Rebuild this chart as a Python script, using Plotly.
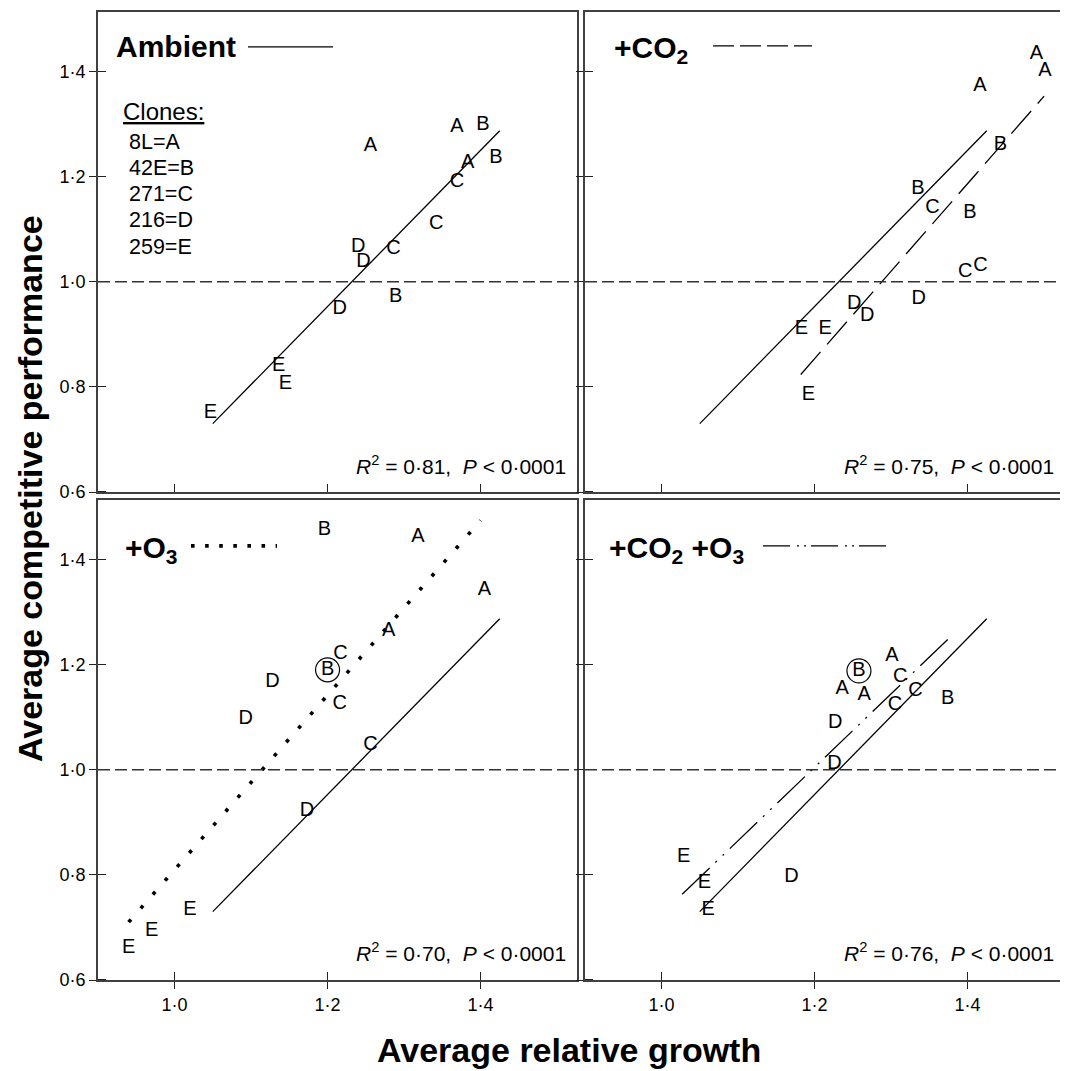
import plotly.graph_objects as go

# ---------------- data ----------------
x_amb = [1.256, 1.369, 1.403, 1.383, 1.420, 1.369, 1.342, 1.286, 1.240, 1.247, 1.289, 1.216, 1.136, 1.145, 1.047]
y_amb = [1.258, 1.294, 1.298, 1.226, 1.235, 1.190, 1.110, 1.063, 1.066, 1.038, 0.970, 0.949, 0.839, 0.806, 0.751]
lab_amb = ["A", "A", "B", "A", "B", "C", "C", "C", "D", "D", "B", "D", "E", "E", "E"]

x_co2 = [1.490, 1.501, 1.416, 1.443, 1.335, 1.354, 1.403, 1.397, 1.417, 1.336, 1.252, 1.269, 1.183, 1.214, 1.192]
y_co2 = [1.433, 1.400, 1.372, 1.260, 1.176, 1.140, 1.131, 1.019, 1.030, 0.968, 0.958, 0.934, 0.911, 0.911, 0.784]
lab_co2 = ["A", "A", "A", "B", "B", "C", "B", "C", "C", "D", "D", "D", "E", "E", "E"]

x_o3 = [1.196, 1.318, 1.405, 1.280, 1.217, 1.200, 1.216, 1.128, 1.093, 1.256, 1.173, 1.020, 0.970, 0.940]
y_o3 = [1.455, 1.442, 1.342, 1.264, 1.220, 1.190, 1.125, 1.167, 1.097, 1.047, 0.922, 0.734, 0.693, 0.660]
lab_o3 = ["B", "A", "A", "A", "C", "B", "C", "D", "D", "C", "D", "E", "E", "E"]

x_both = [1.301, 1.258, 1.236, 1.265, 1.312, 1.332, 1.305, 1.374, 1.227, 1.226, 1.170, 1.029, 1.056, 1.061]
y_both = [1.216, 1.188, 1.154, 1.142, 1.176, 1.150, 1.123, 1.135, 1.089, 1.011, 0.795, 0.833, 0.784, 0.734]
lab_both = ["A", "B", "A", "A", "C", "C", "C", "B", "D", "D", "D", "E", "E", "E"]

# circled points
circ_o3_x = [1.200]
circ_o3_y = [1.190]
circ_both_x = [1.258]
circ_both_y = [1.188]

# regression lines (end points)
amb_line_x = [1.05, 1.425]
amb_line_y = [0.73, 1.287]
co2_line_x = [1.182, 1.50]
co2_line_y = [0.8235, 1.353]
o3_line_x = [0.94, 1.40]
o3_line_y = [0.710, 1.474]
both_line_x = [1.027, 1.375]
both_line_y = [0.763, 1.249]

x_tickvals = [1.0, 1.2, 1.4]
x_ticktext = ["1·0", "1·2", "1·4"]
y_tickvals = [0.6, 0.8, 1.0, 1.2, 1.4]
y_ticktext = ["0·6", "0·8", "1·0", "1·2", "1·4"]

panel_titles = ["<b>Ambient</b>", "<b>+CO<sub>2</sub></b>", "<b>+O<sub>3</sub></b>",
                "<b>+CO<sub>2</sub> +O<sub>3</sub></b>"]
r2_texts = ["<i>R</i><sup>2</sup> = 0·81,  <i>P</i> &lt; 0·0001",
            "<i>R</i><sup>2</sup> = 0·75,  <i>P</i> &lt; 0·0001",
            "<i>R</i><sup>2</sup> = 0·70,  <i>P</i> &lt; 0·0001",
            "<i>R</i><sup>2</sup> = 0·76,  <i>P</i> &lt; 0·0001"]
clone_lines = ["8L=A", "42E=B", "271=C", "216=D", "259=E"]

# ---------------- styling / layout ----------------
FONT = "Liberation Sans, Arial, Helvetica, sans-serif"
OFF = 8  # page body margin of the html page
W, H = 1068 - OFF, 1071 - OFF
ML, MR, MT, MB = 98 - OFF, 4, 10 - OFF, 91
PW, PH = W - ML - MR, H - MT - MB
XR = [0.9, 1.526]
YR = [0.6, 1.513]


def px(xs):
    # screen x pixel -> paper fraction
    return (xs - OFF - ML) / PW


def py(ys):
    # screen y pixel -> paper fraction
    return (H - MB - (ys - OFF)) / PH


xdom = {1: [0, 479 / PW], 2: [487 / PW, 1]}
ydom = {1: [489 / PH, 1], 2: [0, 481 / PH]}

fig = go.Figure()

panels = [
    (x_amb, y_amb, lab_amb, "x", "y"),
    (x_co2, y_co2, lab_co2, "x2", "y2"),
    (x_o3, y_o3, lab_o3, "x3", "y3"),
    (x_both, y_both, lab_both, "x4", "y4"),
]

LINE_SOLID = dict(color="black", width=1.3)
LINE_CO2 = dict(color="black", width=1.3, dash="30px,10px")
LINE_O3 = dict(color="black", width=3.6, dash="3.6px,14.8px")
LINE_BOTH = dict(color="black", width=1.3, dash="38px,8px,2px,8px,2px,8px")

for (xs, ys, labs, xa, ya) in panels:
    fig.add_trace(go.Scatter(x=amb_line_x, y=amb_line_y, mode="lines", line=LINE_SOLID,
                             xaxis=xa, yaxis=ya, showlegend=False, hoverinfo="skip"))

fig.add_trace(go.Scatter(x=co2_line_x, y=co2_line_y, mode="lines", line=LINE_CO2,
                         xaxis="x2", yaxis="y2", showlegend=False, hoverinfo="skip"))
fig.add_trace(go.Scatter(x=o3_line_x, y=o3_line_y, mode="lines", line=LINE_O3,
                         xaxis="x3", yaxis="y3", showlegend=False, hoverinfo="skip"))
fig.add_trace(go.Scatter(x=both_line_x, y=both_line_y, mode="lines", line=LINE_BOTH,
                         xaxis="x4", yaxis="y4", showlegend=False, hoverinfo="skip"))

for (xs, ys, labs, xa, ya) in panels:
    fig.add_trace(go.Scatter(x=xs, y=ys, text=labs, mode="text", textposition="middle center",
                             textfont=dict(family=FONT, size=20, color="black"),
                             xaxis=xa, yaxis=ya, showlegend=False, cliponaxis=False))

fig.add_trace(go.Scatter(x=circ_o3_x, y=circ_o3_y, mode="markers",
                         marker=dict(symbol="circle-open", size=24, color="black", line=dict(width=1.2)),
                         xaxis="x3", yaxis="y3", showlegend=False))
fig.add_trace(go.Scatter(x=circ_both_x, y=circ_both_y, mode="markers",
                         marker=dict(symbol="circle-open", size=24, color="black", line=dict(width=1.2)),
                         xaxis="x4", yaxis="y4", showlegend=False))

layout = dict(
    width=W, height=H,
    margin=dict(l=ML, r=MR, t=MT, b=MB),
    paper_bgcolor="white", plot_bgcolor="white",
    font=dict(family=FONT, color="black"),
    hovermode=False,
    showlegend=False,
)

EPS = 1e-4
pos = {1: (1, 1), 2: (2, 1), 3: (1, 2), 4: (2, 2)}
for i in range(1, 5):
    col, row = pos[i]
    s = "" if i == 1 else str(i)
    xa = dict(domain=xdom[col], range=XR, anchor="y" + s, showline=True, mirror=True,
              linecolor="#404040", linewidth=2, showgrid=False, zeroline=False,
              tickmode="array", tickvals=x_tickvals, ticktext=x_ticktext,
              tickfont=dict(family=FONT, size=18, color="black"),
              tickcolor="#222", tickwidth=1.3, showticklabels=(row == 2))
    if row == 1:
        xa.update(ticks="inside", ticklen=8)
    else:
        xa.update(ticks="outside", ticklen=7,
                  minor=dict(ticks="inside", ticklen=8, tickmode="array",
                             tickvals=[v + EPS for v in x_tickvals],
                             tickcolor="#222", tickwidth=1.3, showgrid=False))
    ya = dict(domain=ydom[row], range=YR, anchor="x" + s, showline=True, mirror=True,
              linecolor="#404040", linewidth=2, showgrid=False, zeroline=False,
              tickmode="array", tickvals=y_tickvals, ticktext=y_ticktext,
              tickfont=dict(family=FONT, size=18, color="black"),
              tickcolor="#222", tickwidth=1.3, showticklabels=(col == 1),
              ticks="outside", ticklen=7,
              minor=dict(ticks="inside", ticklen=8, tickmode="array",
                         tickvals=[v + EPS for v in y_tickvals],
                         tickcolor="#222", tickwidth=1.3, showgrid=False))
    layout["xaxis" + s] = xa
    layout["yaxis" + s] = ya

fig.update_layout(**layout)

# reference line at y = 1 in every panel
for i in range(1, 5):
    s = "" if i == 1 else str(i)
    fig.add_shape(type="line", xref="x" + s + " domain", yref="y" + s, x0=0, x1=1, y0=1.0, y1=1.0,
                  line=dict(color="#333", width=1.5, dash="12px,5px"), layer="above")

# legend samples next to panel titles
legend_samples = [
    ((248, 45), (333, 45), LINE_SOLID),
    ((713, 44), (812, 44), dict(color="black", width=1.3, dash="21px,6px")),
    ((191, 545), (277, 545), dict(color="black", width=3.6, dash="3.6px,10.5px")),
    ((763, 545), (887, 545), dict(color="black", width=1.3, dash="27px,7px,2px,5px,2px,5px")),
]
for (a, b, ln) in legend_samples:
    fig.add_shape(type="line", xref="paper", yref="paper", x0=px(a[0]), y0=py(a[1]),
                  x1=px(b[0]), y1=py(b[1]), line=ln)

annotations = []
title_pos = [(114, 45), (612, 48), (123, 549), (607, 549)]
for t, (xp, yp) in zip(panel_titles, title_pos):
    annotations.append(dict(text=t, x=px(xp), y=py(yp), xref="paper", yref="paper",
                            xanchor="left", yanchor="middle", showarrow=False,
                            font=dict(family=FONT, size=30, color="black")))

r2_pos = [(568, 464), (1056, 464), (568, 952), (1056, 952)]
for t, (xp, yp) in zip(r2_texts, r2_pos):
    annotations.append(dict(text=t, x=px(xp), y=py(yp), xref="paper", yref="paper",
                            xanchor="right", yanchor="middle", showarrow=False,
                            font=dict(family=FONT, size=21, color="black")))

annotations.append(dict(text="Clones:", x=px(121), y=py(110), xref="paper", yref="paper",
                        xanchor="left", yanchor="middle", showarrow=False,
                        font=dict(family=FONT, size=24, color="black", lineposition="under")))
for k, t in enumerate(clone_lines):
    annotations.append(dict(text=t, x=px(127), y=py(140 + k * 26.3), xref="paper", yref="paper",
                            xanchor="left", yanchor="middle", showarrow=False,
                            font=dict(family=FONT, size=21.5, color="black")))

annotations.append(dict(text="<b>Average relative growth</b>", x=px(569), y=py(1050),
                        xref="paper", yref="paper", xanchor="center", yanchor="middle",
                        showarrow=False, font=dict(family=FONT, size=34, color="black")))
annotations.append(dict(text="<b>Average competitive performance</b>", x=px(30), y=py(488),
                        xref="paper", yref="paper", xanchor="center", yanchor="middle",
                        textangle=-90, showarrow=False,
                        font=dict(family=FONT, size=34, color="black")))

fig.update_layout(annotations=annotations)

fig.write_html("out.html")
